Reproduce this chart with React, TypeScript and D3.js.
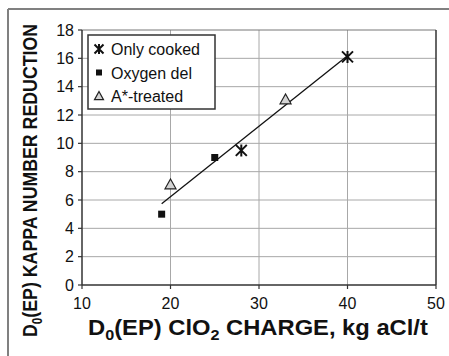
import * as d3 from 'd3';

type Pt = { x: number; y: number };

const onlyCooked: Pt[] = [
  { x: 28, y: 9.5 },
  { x: 40, y: 16.1 },
];
const oxygenDel: Pt[] = [
  { x: 19, y: 5.0 },
  { x: 25, y: 9.0 },
];
const aTreated: Pt[] = [
  { x: 20, y: 7.1 },
  { x: 33, y: 13.1 },
];
const xTicks = [10, 20, 30, 40, 50];
const yTicks = [0, 2, 4, 6, 8, 10, 12, 14, 16, 18];
const legendLabels = ['Only cooked', 'Oxygen del', 'A*-treated'];

const W = 449;
const H = 356;
const FONT = '"Liberation Sans", Arial, Helvetica, sans-serif';

// least squares fit over all points, drawn between min and max x
function fitLine(pts: Pt[]): [Pt, Pt] {
  const mx = d3.mean(pts, (p) => p.x) ?? 0;
  const my = d3.mean(pts, (p) => p.y) ?? 0;
  const sxx = d3.sum(pts, (p) => (p.x - mx) ** 2);
  const sxy = d3.sum(pts, (p) => (p.x - mx) * (p.y - my));
  const b = sxy / sxx;
  const a = my - b * mx;
  const [x0, x1] = d3.extent(pts, (p) => p.x) as [number, number];
  return [
    { x: x0, y: a + b * x0 },
    { x: x1, y: a + b * x1 },
  ];
}

function Star({ cx, cy, s = 5.5 }: { cx: number; cy: number; s?: number }) {
  const d = `M${cx - s},${cy - s}L${cx + s},${cy + s}M${cx - s},${cy + s}L${cx + s},${cy - s}M${cx},${cy - s - 0.5}L${cx},${cy + s + 0.5}`;
  return <path d={d} stroke="#111" strokeWidth={2} fill="none" />;
}

function Square({ cx, cy, s = 3.5 }: { cx: number; cy: number; s?: number }) {
  return <rect x={cx - s} y={cy - s} width={s * 2} height={s * 2} fill="#111" />;
}

function Tri({ cx, cy, s = 5.5 }: { cx: number; cy: number; s?: number }) {
  const d = `M${cx},${cy - s}L${cx + s},${cy + s * 0.8}L${cx - s},${cy + s * 0.8}Z`;
  return <path d={d} fill="#d4d4d4" stroke="#222" strokeWidth={1.2} />;
}

export default function App() {
  const x = d3.scaleLinear().domain([10, 50]).range([82, 436]);
  const y = d3.scaleLinear().domain([0, 18]).range([285, 30]);

  const all = [...onlyCooked, ...oxygenDel, ...aTreated];
  const fit = fitLine(all);
  const line = d3
    .line<Pt>()
    .x((d) => x(d.x))
    .y((d) => y(d.y));

  const legendRows = [
    (cx: number, cy: number) => <Star cx={cx} cy={cy} s={4.5} />,
    (cx: number, cy: number) => <Square cx={cx} cy={cy} s={3} />,
    (cx: number, cy: number) => <Tri cx={cx} cy={cy} s={4.5} />,
  ];

  return (
    <svg
      width={W}
      height={H}
      style={{ position: 'absolute', left: 0, top: 0, background: '#fff', display: 'block' }}
      fontFamily={FONT}
    >
      {/* outer frame (only left and top edges fall inside the picture) */}
      <line x1={8} x2={8} y1={9} y2={H} stroke="#808080" strokeWidth={2} />
      <line x1={8} x2={W} y1={9} y2={9} stroke="#808080" strokeWidth={2} />

      {/* grid */}
      {yTicks.slice(1, -1).map((t) => (
        <line key={'gy' + t} x1={x(10)} x2={x(50)} y1={y(t)} y2={y(t)} stroke="#a8a8a8" strokeWidth={1} />
      ))}
      {xTicks.slice(1, -1).map((t) => (
        <line key={'gx' + t} x1={x(t)} x2={x(t)} y1={y(0)} y2={y(18)} stroke="#a8a8a8" strokeWidth={1} />
      ))}

      {/* plot border */}
      <line x1={x(10)} x2={x(50)} y1={y(18)} y2={y(18)} stroke="#777" strokeWidth={1} />
      <line x1={x(50)} x2={x(50)} y1={y(18)} y2={y(0)} stroke="#333" strokeWidth={1.5} />
      <line x1={x(10)} x2={x(50)} y1={y(0)} y2={y(0)} stroke="#333" strokeWidth={1.5} />
      <line x1={x(10)} x2={x(10)} y1={y(18)} y2={y(0)} stroke="#333" strokeWidth={1.5} />

      {/* ticks + labels */}
      {yTicks.map((t) => (
        <g key={'ty' + t}>
          <line x1={x(10) - 4} x2={x(10)} y1={y(t)} y2={y(t)} stroke="#333" strokeWidth={1.2} />
          <text x={x(10) - 8} y={y(t)} dy="0.36em" textAnchor="end" fontSize={16} fill="#111">
            {t}
          </text>
        </g>
      ))}
      {xTicks.map((t) => (
        <g key={'tx' + t}>
          <line x1={x(t)} x2={x(t)} y1={y(0)} y2={y(0) + 4} stroke="#333" strokeWidth={1.2} />
          <text x={x(t)} y={309} textAnchor="middle" fontSize={16} fill="#111">
            {t}
          </text>
        </g>
      ))}

      {/* trend line */}
      <path d={line(fit) ?? ''} stroke="#111" strokeWidth={1.3} fill="none" />

      {/* points */}
      {oxygenDel.map((p, i) => (
        <Square key={'o' + i} cx={x(p.x)} cy={y(p.y)} />
      ))}
      {aTreated.map((p, i) => (
        <Tri key={'a' + i} cx={x(p.x)} cy={y(p.y)} />
      ))}
      {onlyCooked.map((p, i) => (
        <Star key={'c' + i} cx={x(p.x)} cy={y(p.y)} />
      ))}

      {/* legend */}
      <rect x={88} y={35} width={127} height={74} fill="#fff" stroke="#333" strokeWidth={1.5} />
      {legendLabels.map((lab, i) => (
        <g key={lab}>
          {legendRows[i](99, 49 + i * 23.5)}
          <text x={111} y={55 + i * 23.5} fontSize={16} fill="#111">
            {lab}
          </text>
        </g>
      ))}

      {/* axis titles (the original face is narrower/wider than Arial, so scale horizontally) */}
      <text transform="translate(88,335) scale(1.08,1)" fontSize={22} fontWeight="bold" fill="#111">
        D<tspan fontSize={15} dy={5}>0</tspan>
        <tspan dy={-5}>(EP) ClO</tspan>
        <tspan fontSize={15} dy={5}>2</tspan>
        <tspan dy={-5}> CHARGE, kg aCl/t</tspan>
      </text>
      <text
        transform="translate(37,180.5) rotate(-90) scale(0.845,1)"
        textAnchor="middle"
        fontSize={21}
        fontWeight="bold"
        fill="#111"
      >
        D<tspan fontSize={14} dy={5}>0</tspan>
        <tspan dy={-5}>(EP) KAPPA NUMBER REDUCTION</tspan>
      </text>
    </svg>
  );
}
